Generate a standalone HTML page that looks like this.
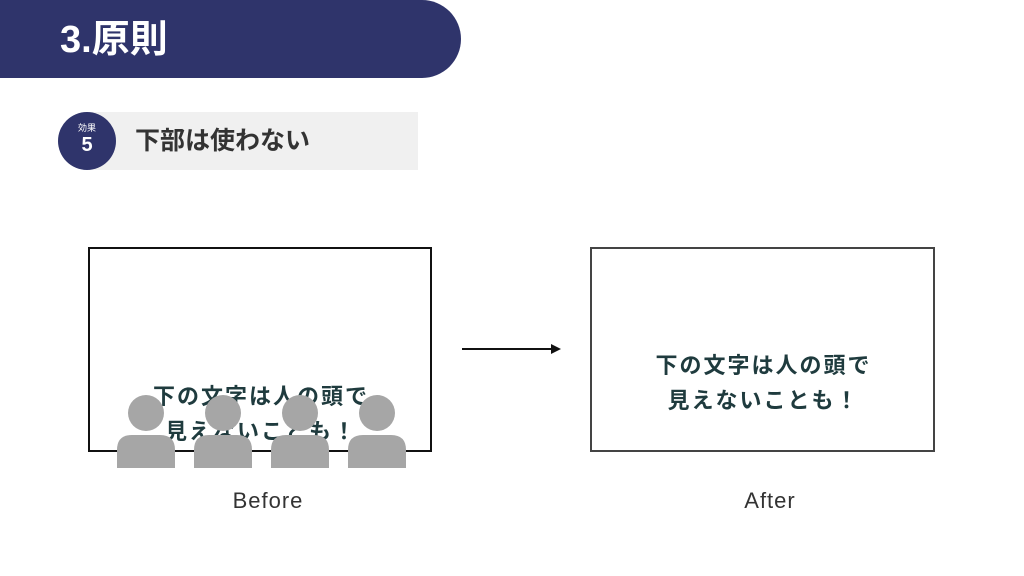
<!DOCTYPE html>
<html><head><meta charset="utf-8"><style>
body{margin:0;width:1024px;height:576px;background:#fff;position:relative;overflow:hidden;font-family:"Liberation Sans","Noto Sans CJK JP",sans-serif}
.a{position:absolute}
.t{color:#1f3b3e;font-weight:bold;font-size:22px;line-height:35px;text-align:center;letter-spacing:2px}
</style></head><body>
<div class="a" style="left:0;top:0;width:461px;height:78px;background:#2f346b;border-radius:0 39px 39px 0"></div>
<div class="a" style="left:60px;top:15px;color:#fff;font-weight:bold;font-size:38px;line-height:50px">3.原則</div>
<div class="a" style="left:83px;top:112px;width:335px;height:58px;background:#f0f0f0"></div>
<div class="a" style="left:58px;top:112px;width:58px;height:58px;border-radius:50%;background:#2f346b;color:#fff;text-align:center">
<div style="font-size:9px;margin-top:11px;line-height:10px">効果</div>
<div style="font-size:20px;line-height:24px;font-weight:bold">5</div></div>
<div class="a" style="left:135px;top:124px;font-size:25px;font-weight:bold;color:#333;line-height:34px">下部は使わない</div>

<div class="a" style="left:88px;top:247px;width:340px;height:201px;border:2px solid #111"></div>
<div class="a t" style="left:88px;top:379px;width:346px">下の文字は人の頭で<br>見えないことも！</div>
<svg class="a" style="left:0;top:0" width="1024" height="576">
<g fill="#a6a6a6">
<circle cx="146" cy="413" r="18"/><circle cx="223" cy="413" r="18"/><circle cx="300" cy="413" r="18"/><circle cx="377" cy="413" r="18"/>
<path d="M117 468 L117 450 Q117 435 132 435 L160 435 Q175 435 175 450 L175 468 Z"/>
<path d="M194 468 L194 450 Q194 435 209 435 L237 435 Q252 435 252 450 L252 468 Z"/>
<path d="M271 468 L271 450 Q271 435 286 435 L314 435 Q329 435 329 450 L329 468 Z"/>
<path d="M348 468 L348 450 Q348 435 363 435 L391 435 Q406 435 406 450 L406 468 Z"/>
</g>
<line x1="462" y1="349" x2="554" y2="349" stroke="#111" stroke-width="2"/>
<path d="M561 349 L551 344 L551 354 Z" fill="#111"/>
</svg>
<div class="a" style="left:590px;top:247px;width:341px;height:201px;border:2px solid #444"></div>
<div class="a t" style="left:590px;top:348px;width:347px">下の文字は人の頭で<br>見えないことも！</div>
<div class="a" style="left:168px;top:488px;width:200px;text-align:center;font-size:22px;color:#333;letter-spacing:1px">Before</div>
<div class="a" style="left:670px;top:488px;width:200px;text-align:center;font-size:22px;color:#333;letter-spacing:1px">After</div>
</body></html>
